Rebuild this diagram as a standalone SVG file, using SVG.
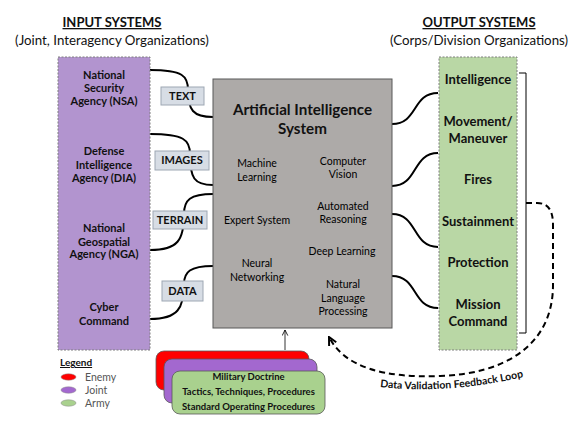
<svg xmlns="http://www.w3.org/2000/svg" width="587" height="430" viewBox="0 0 587 430">
<defs>
<style>
text{font-family:Lato,"Liberation Sans",sans-serif;fill:#111}
.hd{font-size:13px;font-weight:bold;text-anchor:middle;text-decoration:underline}
.sub{font-size:13.3px;text-anchor:middle}
.b{font-size:11px;font-weight:bold;text-anchor:middle}
.g{font-size:13px;font-weight:bold;text-anchor:middle}
.ai{font-size:10.5px;text-anchor:middle;fill:#000}
.lbl{fill:#D7DDE5;stroke:#9EA7B3;stroke-width:1}
.con{fill:none;stroke:#000;stroke-width:2}
.st{font-size:9.5px;font-weight:bold;text-anchor:middle}
.lg{font-size:10.5px;fill:#555}
</style>
<marker id="ah" viewBox="0 0 10 10" refX="9" refY="5" markerWidth="5" markerHeight="5" orient="auto" markerUnits="strokeWidth">
<path d="M1,1 L9,5 L1,9" fill="none" stroke="#000" stroke-width="2"/>
</marker>
<marker id="ah2" viewBox="0 0 10 10" refX="9" refY="5" markerWidth="7" markerHeight="7" orient="auto" markerUnits="userSpaceOnUse">
<path d="M1,1 L9,5 L1,9" fill="none" stroke="#000" stroke-width="1.2"/>
</marker>
</defs>
<rect width="587" height="430" fill="#fff"/>

<text class="hd" x="112" y="27">INPUT SYSTEMS</text>
<text class="sub" x="112" y="45">(Joint, Interagency Organizations)</text>
<text class="hd" x="479" y="27">OUTPUT SYSTEMS</text>
<text class="sub" x="479" y="45">(Corps/Division Organizations)</text>

<g id="connectors">
<path class="con" d="M150,70 C183,70 188,76 188,90 C188,110 193,117 213,117"/>
<path class="con" d="M150,134 C184,134 190,140 190,154 C190,178 194,185 213,185"/>
<path class="con" d="M213,194 C190,194 184,200 184,214 C184,240 178,250 150,250"/>
<path class="con" d="M213,266 C190,266 184,272 184,284 C184,308 178,319 150,319"/>
<path class="con" d="M392,124 C418,124 412,93 438,93"/>
<path class="con" d="M392,186 C418,186 412,153 438,153"/>
<path class="con" d="M392,214 C418,214 412,247 438,247"/>
<path class="con" d="M392,276 C418,276 412,308 438,308"/>
<path d="M519,73 H526 V333 H519" fill="none" stroke="#000" stroke-width="1"/>
<path d="M526,203 H537 C548,203 553,210 553,225 V285 C553,345 505,374 440,376 C385,378 345,368 329,337" fill="none" stroke="#000" stroke-width="2" stroke-dasharray="6,4" marker-end="url(#ah)"/>
<path d="M285,350 V330" fill="none" stroke="#000" stroke-width="0.8" marker-end="url(#ah2)"/>
<path id="fbp" d="M380,387 Q450,395 532,375" fill="none"/>
<text style="font-size:10.5px;font-weight:bold"><textPath href="#fbp">Data Validation Feedback Loop</textPath></text>
</g>

<g id="input-systems">
<rect x="58" y="57" width="92" height="293" fill="#B294CF" stroke="#7F7F7F" stroke-width="1" stroke-dasharray="2,1.5"/>
<text class="b" x="104" y="79">National</text>
<text class="b" x="104" y="92">Security</text>
<text class="b" x="104" y="105">Agency (NSA)</text>
<text class="b" x="104" y="155">Defense</text>
<text class="b" x="104" y="169">Intelligence</text>
<text class="b" x="104" y="182">Agency (DIA)</text>
<text class="b" x="104" y="232">National</text>
<text class="b" x="104" y="246">Geospatial</text>
<text class="b" x="104" y="258">Agency (NGA)</text>
<text class="b" x="104" y="311">Cyber</text>
<text class="b" x="104" y="325">Command</text>
</g>

<g id="label-text"><rect class="lbl" x="161" y="87" width="43" height="18"/><text class="b" x="182.5" y="100">TEXT</text></g>
<g id="label-images"><rect class="lbl" x="155" y="151" width="54" height="19"/><text class="b" x="182" y="164">IMAGES</text></g>
<g id="label-terrain"><rect class="lbl" x="153" y="211" width="54" height="18"/><text class="b" x="180" y="224">TERRAIN</text></g>
<g id="label-data"><rect class="lbl" x="162" y="281" width="41" height="20"/><text class="b" x="182.5" y="295">DATA</text></g>

<g id="ai-system">
<rect x="213" y="79" width="179" height="249" fill="#ADAAA8" stroke="#595959" stroke-width="1"/>
<text x="302.5" y="115" style="font-size:15.2px;font-weight:bold;text-anchor:middle">Artificial Intelligence</text>
<text x="302.5" y="134" style="font-size:15.2px;font-weight:bold;text-anchor:middle">System</text>
<text class="ai" x="257" y="167">Machine</text>
<text class="ai" x="257" y="181">Learning</text>
<text class="ai" x="343" y="165">Computer</text>
<text class="ai" x="343" y="178">Vision</text>
<text class="ai" x="257" y="224">Expert System</text>
<text class="ai" x="343" y="210">Automated</text>
<text class="ai" x="343" y="223">Reasoning</text>
<text class="ai" x="257" y="267">Neural</text>
<text class="ai" x="257" y="281">Networking</text>
<text class="ai" x="342" y="255">Deep Learning</text>
<text class="ai" x="343" y="288">Natural</text>
<text class="ai" x="343" y="302">Language</text>
<text class="ai" x="343" y="315">Processing</text>
</g>

<g id="output-systems">
<rect x="439" y="57" width="78" height="293" fill="#B9D7A5" stroke="#7F7F7F" stroke-width="1" stroke-dasharray="2,1.5"/>
<text class="g" x="478" y="84">Intelligence</text>
<text class="g" x="478" y="126">Movement/</text>
<text class="g" x="478" y="143">Maneuver</text>
<text class="g" x="478" y="184">Fires</text>
<text class="g" x="478" y="226">Sustainment</text>
<text class="g" x="478" y="267">Protection</text>
<text class="g" x="478" y="309">Mission</text>
<text class="g" x="478" y="326">Command</text>
</g>

<g id="doctrine">
<rect x="156" y="351" width="153" height="39" rx="8" fill="#FF0000" stroke="#595959" stroke-width="0.8"/>
<rect x="164" y="359" width="153" height="44" rx="8" fill="#A368CF" stroke="#595959" stroke-width="0.8"/>
<rect x="172" y="371" width="153" height="43" rx="8" fill="#A9D18E" stroke="#595959" stroke-width="0.8"/>
<text class="st" x="248.5" y="380">Military Doctrine</text>
<text class="st" x="248.5" y="395">Tactics, Techniques, Procedures</text>
<text class="st" x="248.5" y="410">Standard Operating Procedures</text>
</g>

<g id="legend">
<text x="60" y="366" style="font-size:10px;font-weight:bold;text-decoration:underline">Legend</text>
<ellipse cx="68.5" cy="377" rx="7.5" ry="3.2" fill="#FF0000" stroke="#888" stroke-width="0.5"/>
<ellipse cx="68.5" cy="390" rx="7.5" ry="3.2" fill="#A368CF" stroke="#888" stroke-width="0.5"/>
<ellipse cx="68.5" cy="403" rx="7.5" ry="3.2" fill="#A9D18E" stroke="#888" stroke-width="0.5"/>
<text class="lg" x="85" y="381">Enemy</text>
<text class="lg" x="85" y="394">Joint</text>
<text class="lg" x="85" y="407">Army</text>
</g>
</svg>
